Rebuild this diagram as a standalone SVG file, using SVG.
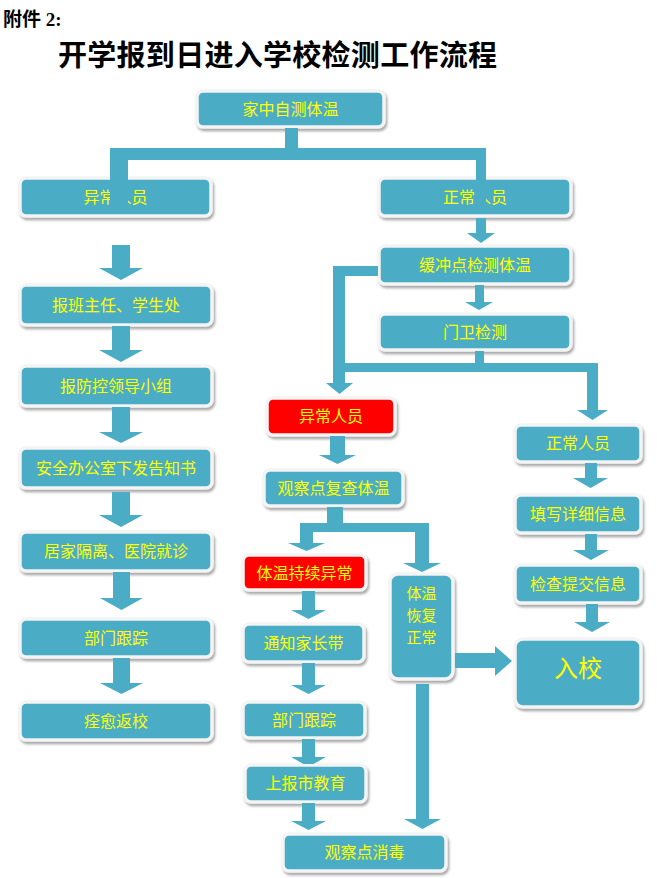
<svg xmlns="http://www.w3.org/2000/svg" width="657" height="878" viewBox="0 0 657 878">
<defs>
<filter id="sh" x="-10%" y="-10%" width="125%" height="130%">
<feDropShadow dx="1.5" dy="2.5" stdDeviation="1" flood-color="#6f6f6f" flood-opacity="0.6"/>
</filter>
<style>
.box{fill:#4BACC6;stroke:#F4F4F4;stroke-width:3.5;filter:url(#sh)}
.red{fill:#FF0000;stroke:#F4F4F4;stroke-width:3.5;filter:url(#sh)}
.t{font-family:"Noto Sans CJK SC","Liberation Sans",sans-serif;font-size:16px;fill:#FFFF00;text-anchor:middle}
.conn path{fill:#4BACC6}
.hd{font-family:"Liberation Serif","Noto Sans CJK SC",serif;font-weight:bold;fill:#000}
</style>
</defs>
<rect width="657" height="878" fill="#fff"/>
<text class="hd" x="3" y="26" font-size="19">附件 2:</text>
<text class="hd" x="58" y="66" font-size="29" textLength="439">开学报到日进入学校检测工作流程</text>

<g id="n1"><rect class="box" x="197" y="91" width="187" height="36" rx="6"/><text class="t" x="290.5" y="115">家中自测体温</text></g>
<g id="n2"><rect class="box" x="20" y="178" width="191" height="38" rx="6"/><text class="t" x="115.5" y="203">异常人员</text></g>
<g id="n3"><rect class="box" x="379" y="178" width="192" height="38" rx="6"/><text class="t" x="475" y="203">正常人员</text></g>
<g id="n4"><rect class="box" x="379" y="246" width="192" height="38" rx="6"/><text class="t" x="475" y="271">缓冲点检测体温</text></g>
<g id="n5"><rect class="box" x="379" y="314" width="192" height="36" rx="6"/><text class="t" x="475" y="338">门卫检测</text></g>
<g id="n6"><rect class="box" x="20" y="285" width="192" height="40" rx="6"/><text class="t" x="116" y="311">报班主任、学生处</text></g>
<g id="n7"><rect class="box" x="20" y="366" width="192" height="40" rx="6"/><text class="t" x="116" y="392">报防控领导小组</text></g>
<g id="n8"><rect class="box" x="20" y="448" width="192" height="40" rx="6"/><text class="t" x="116" y="474">安全办公室下发告知书</text></g>
<g id="n9"><rect class="box" x="20" y="532" width="192" height="39" rx="6"/><text class="t" x="116" y="557">居家隔离、医院就诊</text></g>
<g id="n10"><rect class="box" x="20" y="619" width="192" height="38" rx="6"/><text class="t" x="116" y="644">部门跟踪</text></g>
<g id="n11"><rect class="box" x="20" y="702" width="192" height="38" rx="6"/><text class="t" x="116" y="727">痊愈返校</text></g>
<g id="n12"><rect class="red" x="267" y="398" width="128" height="37" rx="6"/><text class="t" x="331" y="422">异常人员</text></g>
<g id="n13"><rect class="box" x="264" y="470" width="139" height="36" rx="6"/><text class="t" x="333.5" y="494">观察点复查体温</text></g>
<g id="n14"><rect class="box" x="515" y="425" width="126" height="37" rx="6"/><text class="t" x="578" y="449">正常人员</text></g>
<g id="n15"><rect class="box" x="515" y="495" width="126" height="38" rx="6"/><text class="t" x="578" y="520">填写详细信息</text></g>
<g id="n16"><rect class="box" x="515" y="565" width="126" height="38" rx="6"/><text class="t" x="578" y="590">检查提交信息</text></g>
<g id="n17"><rect class="box" x="515" y="639" width="126" height="68" rx="8"/><text class="t" x="578" y="677" style="font-size:24px">入校</text></g>
<g id="n18"><rect class="red" x="243" y="555" width="123" height="35" rx="6"/><text class="t" x="304.5" y="579">体温持续异常</text></g>
<g id="n19"><rect class="box" x="243" y="624" width="121" height="38" rx="6"/><text class="t" x="303.5" y="649">通知家长带</text></g>
<g id="n20"><rect class="box" x="243" y="702" width="122" height="36" rx="6"/><text class="t" x="304" y="726">部门跟踪</text></g>
<g id="n21"><rect class="box" x="245" y="765" width="121" height="37" rx="6"/><text class="t" x="305.5" y="789">上报市教育</text></g>
<g id="n22"><rect class="box" x="283" y="834" width="163" height="37" rx="6"/><text class="t" x="364.5" y="858">观察点消毒</text></g>
<g id="n23"><rect class="box" x="390" y="574" width="63" height="105" rx="8"/><text class="t" x="421.5" y="598.5" style="font-size:15px">体温</text><text class="t" x="421.5" y="620.5" style="font-size:15px">恢复</text><text class="t" x="421.5" y="642.5" style="font-size:15px">正常</text></g>

<g id="connectors" class="conn">
<path d="M285 128H298V160H285Z M110 148H486V160H110Z M110 148H128V210H110Z M476 148H486V210H476Z"/>
<path d="M476 218H486V233H495L481 243L467 233H476Z"/>
<path d="M475 285H484V302H493L479 310L465 302H475Z"/>
<path d="M378 266V276H345V383H353L339.5 394L326 383H333V266Z"/>
<path d="M475 351H484V364H475Z M333 363H598V372H333Z M587 363H598V410H608L592.5 420L577 410H587Z"/>
<path d="M330 436H345V455H356L337.5 464L319 455H330Z"/>
<path d="M327 507H343V532H327Z M300 523H429V532H300Z M300 523H313V543H325L306.5 551L288 543H300Z M415 523H429V563H441L422 572L403 563H415Z"/>
<path d="M302 591H315V610H326L308.5 619L291 610H302Z"/>
<path d="M302 663H315V685H326L308.5 694L291 685H302Z"/>
<path d="M302 739H315V757H326L313.5 764H303.5L291 757H302Z"/>
<path d="M302 803H315V821H326L308.5 830L291 821H302Z"/>
<path d="M416 684H429V819H441L422.5 829L404 819H416Z"/>
<path d="M455 653H495V646L512 661L495 676V668H455Z"/>
<path d="M585 463H597V478H608L590.5 488L573 478H585Z"/>
<path d="M585 534H597V550H609L591 560L573 550H585Z"/>
<path d="M586 604H598V622H610L592 632L574 622H586Z"/>
<path d="M112 245H130V268H143L121 280L99 268H112Z"/>
<path d="M112 326H130V350H143L121 362L99 350H112Z"/>
<path d="M112 407H130V432H143L121 443L99 432H112Z"/>
<path d="M112 492H130V515H143L121 527L99 515H112Z"/>
<path d="M113 572H130V598H143L121.5 610L100 598H113Z"/>
<path d="M113 658H130V683H143L121.5 694L100 683H113Z"/>
</g>
</svg>
